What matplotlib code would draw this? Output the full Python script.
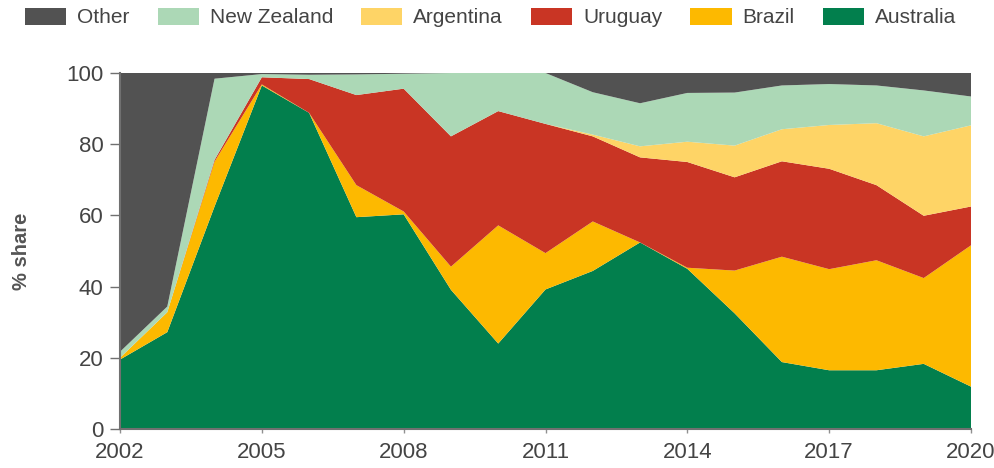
import matplotlib
matplotlib.use("Agg")
import matplotlib.pyplot as plt
import numpy as np
from matplotlib.patches import Patch

plt.rcParams['font.family'] = ['Liberation Sans', 'DejaVu Sans']

years = list(range(2002, 2021))

# shares, stacked bottom to top
australia = [19.5, 27.2, 62.5, 96.5, 88.8, 59.5, 60.3, 39.1, 24.0, 39.2,
             44.4, 52.4, 45.0, 32.5, 18.8, 16.5, 16.5, 18.3, 11.9]
brazil = [0.5, 5.6, 12.6, 0.3, 0.0, 9.0, 0.8, 6.5, 33.2, 10.2,
          13.9, 0.0, 0.3, 12.0, 29.6, 28.4, 30.9, 24.1, 39.7]
uruguay = [0.0, 0.0, 0.5, 2.0, 9.5, 25.3, 34.5, 36.6, 32.1, 36.3,
           23.9, 23.9, 29.7, 26.2, 26.8, 28.2, 21.1, 17.5, 10.9]
argentina = [0.0, 0.0, 0.0, 0.0, 0.0, 0.0, 0.0, 0.0, 0.0, 0.0,
             0.5, 3.1, 5.7, 8.9, 9.0, 12.3, 17.4, 22.3, 22.8]
new_zealand = [1.7, 1.6, 22.8, 0.9, 1.2, 5.8, 4.2, 17.8, 10.7, 14.3,
               11.9, 12.1, 13.7, 14.9, 12.3, 11.5, 10.6, 12.9, 8.1]
other = [78.3, 65.6, 1.6, 0.3, 0.5, 0.4, 0.2, 0.0, 0.0, 0.0,
         5.4, 8.5, 5.6, 5.5, 3.5, 3.1, 3.5, 4.9, 6.6]

series = [australia, brazil, uruguay, argentina, new_zealand, other]
names = ['Australia', 'Brazil', 'Uruguay', 'Argentina', 'New Zealand', 'Other']
colors = ['#027f4d', '#fdb900', '#c93524', '#fed466', '#acd8b6', '#525252']

fig = plt.figure(figsize=(9.95, 4.68), dpi=100)
ax = fig.add_axes([120 / 995, 39 / 468, 851 / 995, 356 / 468])

ax.stackplot(years, *series, colors=colors, linewidth=0)

ax.set_xlim(2002, 2020)
ax.set_ylim(0, 100)
ax.set_xticks([2002, 2005, 2008, 2011, 2014, 2017, 2020])
ax.set_yticks(range(0, 101, 20))

for side in ['top', 'right']:
    ax.spines[side].set_visible(False)
for side in ['left', 'bottom']:
    ax.spines[side].set_color('#707070')
    ax.spines[side].set_linewidth(1.5)
    ax.spines[side].set_zorder(5)

ax.tick_params(axis='y', length=7, width=1, color='#707070', labelsize=16,
               labelcolor='#444444', pad=5)
ax.tick_params(axis='x', length=3, width=1, color='#909090', labelsize=16,
               labelcolor='#444444', pad=6)

ax.set_ylabel('% share', fontsize=14.5, fontweight='bold', color='#555555')
ax.yaxis.set_label_coords(-0.105, 0.5)

handles = [Patch(facecolor=c, label=n) for c, n in zip(colors, names)][::-1]
fig.legend(handles=handles, loc='center left',
           bbox_to_anchor=(25 / 995, 1 - 17.5 / 468),
           ncol=6, frameon=False, fontsize=15, handlelength=1.97,
           handleheight=0.87, handletextpad=0.53, columnspacing=1.35,
           borderpad=0, borderaxespad=0, labelcolor='#444444')

fig.savefig('out.png', dpi=100)
